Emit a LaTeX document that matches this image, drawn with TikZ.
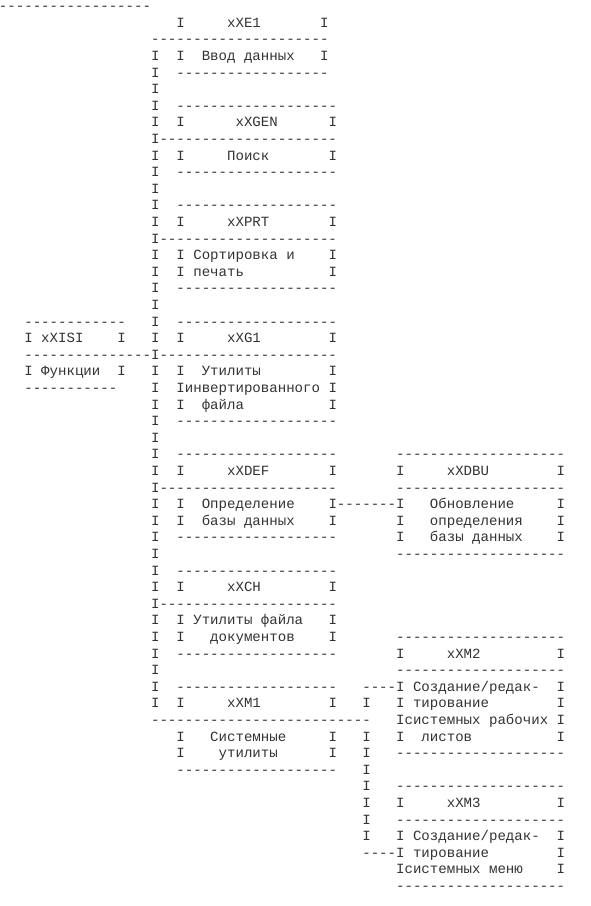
\documentclass[tikz,border=0pt]{standalone}
\usepackage{fontspec}
\setmonofont{Liberation Mono}
\usepackage{tikz}
\newcommand{\dashes}[1]{\foreach \k in {1,...,#1}{-}}

\begin{document}
\begin{tikzpicture}[
		x=6.3375pt, y=-12.45pt,
		txt/.style={anchor=base west, inner sep=0pt,
			font=\ttfamily\fontsize{10.56}{12.45}\selectfont, text=black!80}
		]
		
		\useasboundingbox (0.154,-0.645) rectangle (69.98,53.93);
		
		% Top rule
		\node[txt] (rule) at (0,0) {\dashes{18}};
		
		% Main trunk
		\foreach \r in {3,...,42}
		\node[txt] (trunk-\r) at (18,\r) {I};
		
		% xXE1
		\node[txt] (e1-name) at (27,1) {xXE1};
		\node[txt] (e1-mid) at (18,2) {\dashes{21}};
		\node[txt] (e1-text) at (24,3) {Ввод данных};
		\node[txt] (e1-bot) at (21,4) {\dashes{18}};
		\foreach \r in {1,3} {
			\node[txt] (e1-l\r) at (21,\r) {I};
			\node[txt] (e1-r\r) at (38,\r) {I};
		}
		
		% xXGEN
		\node[txt] (gen-top) at (21,6) {\dashes{19}};
		\node[txt] (gen-name) at (28,7) {xXGEN};
		\node[txt] (gen-mid) at (19,8) {\dashes{21}};
		\node[txt] (gen-text) at (27,9) {Поиск};
		\node[txt] (gen-bot) at (21,10) {\dashes{19}};
		\foreach \r in {7,9} {
			\node[txt] (gen-l\r) at (21,\r) {I};
			\node[txt] (gen-r\r) at (39,\r) {I};
		}
		
		% xXPRT
		\node[txt] (prt-top) at (21,12) {\dashes{19}};
		\node[txt] (prt-name) at (27,13) {xXPRT};
		\node[txt] (prt-mid) at (19,14) {\dashes{21}};
		\node[txt] (prt-text1) at (23,15) {Сортировка и};
		\node[txt] (prt-text2) at (23,16) {печать};
		\node[txt] (prt-bot) at (21,17) {\dashes{19}};
		\foreach \r in {13,15,16} {
			\node[txt] (prt-l\r) at (21,\r) {I};
			\node[txt] (prt-r\r) at (39,\r) {I};
		}
		
		% xXISI
		\node[txt] (isi-top) at (3,19) {\dashes{12}};
		\node[txt] (isi-name) at (5,20) {xXISI};
		\node[txt] (isi-mid) at (3,21) {\dashes{15}};
		\node[txt] (isi-text) at (5,22) {Функции};
		\node[txt] (isi-bot) at (3,23) {\dashes{11}};
		\foreach \r in {20,22} {
			\node[txt] (isi-l\r) at (3,\r) {I};
			\node[txt] (isi-r\r) at (14,\r) {I};
		}
		
		% xXG1
		\node[txt] (g1-top) at (21,19) {\dashes{19}};
		\node[txt] (g1-name) at (27,20) {xXG1};
		\node[txt] (g1-mid) at (19,21) {\dashes{21}};
		\node[txt] (g1-text1) at (24,22) {Утилиты};
		\node[txt] (g1-text2) at (22,23) {инвертированного};
		\node[txt] (g1-text3) at (24,24) {файла};
		\node[txt] (g1-bot) at (21,25) {\dashes{19}};
		\foreach \r in {20,22,23,24} {
			\node[txt] (g1-l\r) at (21,\r) {I};
			\node[txt] (g1-r\r) at (39,\r) {I};
		}
		
		% xXDEF
		\node[txt] (def-top) at (21,27) {\dashes{19}};
		\node[txt] (def-name) at (27,28) {xXDEF};
		\node[txt] (def-mid) at (19,29) {\dashes{21}};
		\node[txt] (def-text1) at (24,30) {Определение};
		\node[txt] (def-text2) at (24,31) {базы данных};
		\node[txt] (def-bot) at (21,32) {\dashes{19}};
		\foreach \r in {28,30,31} {
			\node[txt] (def-l\r) at (21,\r) {I};
			\node[txt] (def-r\r) at (39,\r) {I};
		}
		
		% Link to xXDBU
		\node[txt] (def-link) at (40,30) {\dashes{7}};
		
		% xXDBU
		\node[txt] (dbu-top) at (47,27) {\dashes{20}};
		\node[txt] (dbu-name) at (53,28) {xXDBU};
		\node[txt] (dbu-mid) at (47,29) {\dashes{20}};
		\node[txt] (dbu-text1) at (51,30) {Обновление};
		\node[txt] (dbu-text2) at (51,31) {определения};
		\node[txt] (dbu-text3) at (51,32) {базы данных};
		\node[txt] (dbu-bot) at (47,33) {\dashes{20}};
		\foreach \r in {28,30,31,32} {
			\node[txt] (dbu-l\r) at (47,\r) {I};
			\node[txt] (dbu-r\r) at (66,\r) {I};
		}
		
		% xXCH
		\node[txt] (ch-top) at (21,34) {\dashes{19}};
		\node[txt] (ch-name) at (27,35) {xXCH};
		\node[txt] (ch-mid) at (19,36) {\dashes{21}};
		\node[txt] (ch-text1) at (23,37) {Утилиты файла};
		\node[txt] (ch-text2) at (25,38) {документов};
		\node[txt] (ch-bot) at (21,39) {\dashes{19}};
		\foreach \r in {35,37,38} {
			\node[txt] (ch-l\r) at (21,\r) {I};
			\node[txt] (ch-r\r) at (39,\r) {I};
		}
		
		% xXM1
		\node[txt] (m1-top) at (21,41) {\dashes{19}};
		\node[txt] (m1-name) at (27,42) {xXM1};
		\node[txt] (m1-mid) at (18,43) {\dashes{26}};
		\node[txt] (m1-text1) at (25,44) {Системные};
		\node[txt] (m1-text2) at (26,45) {утилиты};
		\node[txt] (m1-bot) at (21,46) {\dashes{19}};
		\foreach \r in {42,44,45} {
			\node[txt] (m1-l\r) at (21,\r) {I};
			\node[txt] (m1-r\r) at (39,\r) {I};
		}
		
		% Second trunk
		\foreach \r in {42,44,45,...,50}
		\node[txt] (sub-\r) at (43,\r) {I};
		\node[txt] (sub-41) at (43,41) {\dashes{4}};
		\node[txt] (sub-51) at (43,51) {\dashes{4}};
		
		% xXM2
		\node[txt] (m2-top) at (47,38) {\dashes{20}};
		\node[txt] (m2-name) at (53,39) {xXM2};
		\node[txt] (m2-mid) at (47,40) {\dashes{20}};
		\node[txt] (m2-text1) at (49,41) {Создание/редак-};
		\node[txt] (m2-text2) at (49,42) {тирование};
		\node[txt] (m2-text3) at (48,43) {системных рабочих};
		\node[txt] (m2-text4) at (50,44) {листов};
		\node[txt] (m2-bot) at (47,45) {\dashes{20}};
		\foreach \r in {39,41,42,43,44} {
			\node[txt] (m2-l\r) at (47,\r) {I};
			\node[txt] (m2-r\r) at (66,\r) {I};
		}
		
		% xXM3
		\node[txt] (m3-top) at (47,47) {\dashes{20}};
		\node[txt] (m3-name) at (53,48) {xXM3};
		\node[txt] (m3-mid) at (47,49) {\dashes{20}};
		\node[txt] (m3-text1) at (49,50) {Создание/редак-};
		\node[txt] (m3-text2) at (49,51) {тирование};
		\node[txt] (m3-text3) at (48,52) {системных меню};
		\node[txt] (m3-bot) at (47,53) {\dashes{20}};
		\foreach \r in {48,50,51,52} {
			\node[txt] (m3-l\r) at (47,\r) {I};
			\node[txt] (m3-r\r) at (66,\r) {I};
		}
		
	\end{tikzpicture}
\end{document}
